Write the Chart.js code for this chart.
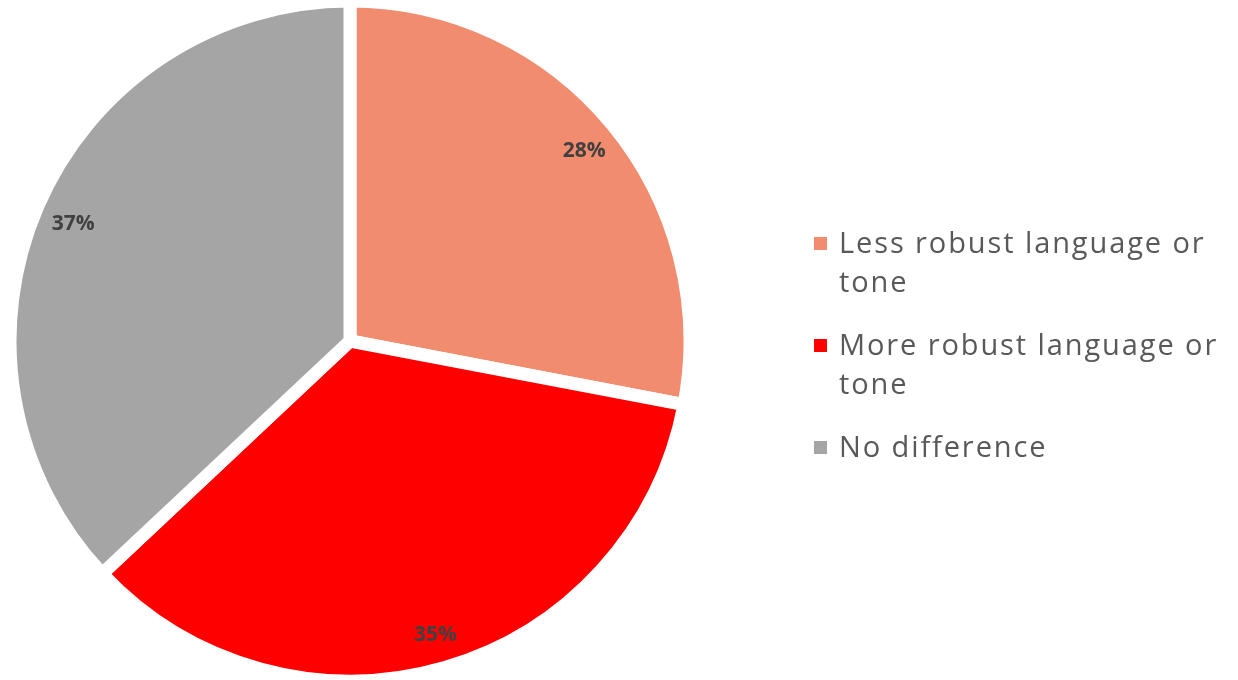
<!DOCTYPE html>
<html>
<head>
<meta charset="utf-8">
<script src="https://cdn.jsdelivr.net/npm/chart.js@4/dist/chart.umd.min.js"></script>
<style>
  html, body { margin: 0; padding: 0; background: #fff; }
  #wrap { position: relative; width: 1238px; height: 680px; }
  #legend {
    position: absolute; left: 812px; top: 222px; width: 426px;
    font-family: "Open Sans", sans-serif; font-size: 29px; color: #595959;
    line-height: 39px; letter-spacing: 1.9px;
  }
  #legend .item { display: flex; align-items: flex-start; margin-bottom: 24px; }
  #legend .box { width: 13px; height: 13px; flex: none; margin: 15px 12px 0 2px; }
</style>
</head>
<body>
<div id="wrap">
  <canvas id="pie" width="1238" height="680"></canvas>
  <div id="legend"></div>
</div>
<script>
const categories = ['Less robust language or tone', 'More robust language or tone', 'No difference'];
const shares = [28, 35, 37];
const sliceColors = ['#F18C6F', '#FF0000', '#A5A5A5'];

// percentage text drawn inside each slice, near the rim
const sliceLabels = {
  id: 'sliceLabels',
  afterDatasetsDraw(chart) {
    const ctx = chart.ctx;
    const meta = chart.getDatasetMeta(0);
    const values = chart.data.datasets[0].data;
    ctx.save();
    ctx.font = 'bold 21px "Open Sans", sans-serif';
    ctx.fillStyle = '#404040';
    ctx.textAlign = 'center';
    ctx.textBaseline = 'middle';
    meta.data.forEach((arc, i) => {
      const p = arc.getProps(['x', 'y', 'startAngle', 'endAngle', 'outerRadius'], true);
      const mid = (p.startAngle + p.endAngle) / 2;
      const r = p.outerRadius * 0.89;
      ctx.fillText(values[i] + '%', p.x + Math.cos(mid) * r + 1, p.y + Math.sin(mid) * r + 3);
    });
    ctx.restore();
  }
};

const chart = new Chart(document.getElementById('pie'), {
  type: 'pie',
  data: {
    labels: categories,
    datasets: [{
      data: shares,
      backgroundColor: sliceColors,
      borderColor: '#ffffff',
      borderWidth: 13,
      radius: 340
    }]
  },
  options: {
    responsive: false,
    animation: false,
    layout: { padding: { top: 2, right: 538 } },
    plugins: {
      legend: { display: false },
      tooltip: { enabled: false }
    }
  },
  plugins: [sliceLabels]
});

// legend built from the chart data
const legendEl = document.getElementById('legend');
chart.data.labels.forEach((label, i) => {
  const item = document.createElement('div');
  item.className = 'item';
  const box = document.createElement('span');
  box.className = 'box';
  box.style.background = sliceColors[i];
  const text = document.createElement('span');
  text.textContent = label;
  item.appendChild(box);
  item.appendChild(text);
  legendEl.appendChild(item);
});
</script>
</body>
</html>
